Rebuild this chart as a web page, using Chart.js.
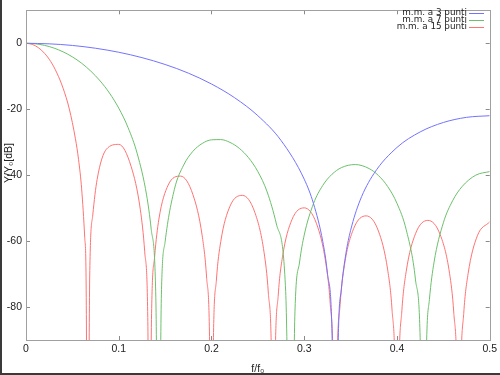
<!DOCTYPE html>
<html>
<head>
<meta charset="utf-8">
<script src="https://cdn.jsdelivr.net/npm/chart.js@4"></script>
<style>
  html, body { margin: 0; padding: 0; background: #fff; }
  canvas { display: block; }
</style>
</head>
<body>
<canvas id="mmChart" width="500" height="375"></canvas>
<script>
// ================== Dati ==================
const seriesNames = ['m.m. a 3 punti', 'm.m. a 7 punti', 'm.m. a 15 punti'];

// media mobile a 3 punti
const freq3 = [0, 0.025, 0.05, 0.075, 0.1, 0.125, 0.15, 0.175, 0.2, 0.225,
  0.25, 0.275, 0.3, 0.31, 0.32, 0.325, 0.33, 0.3333, 0.337, 0.34,
  0.345, 0.35, 0.36, 0.375, 0.4, 0.425, 0.45, 0.475, 0.5];
const gain3 = [0, -0.17, -0.66, -1.51, -2.72, -4.35, -6.43, -9.05, -12.35, -16.53,
  -21.97, -29.48, -41.22, -48.63, -60.12, -69.69, -88.18, -150, -86.45, -74.7,
  -63.68, -56.77, -47.81, -39.6, -31.6, -26.89, -24.03, -22.47, -21.97];

// media mobile a 7 punti
const freq7 = [0, 0.01, 0.02, 0.03, 0.04, 0.05, 0.06, 0.07, 0.08, 0.09,
  0.1, 0.11, 0.12, 0.13, 0.135, 0.14, 0.1429, 0.146, 0.15, 0.16,
  0.17, 0.18, 0.19, 0.2, 0.21, 0.22, 0.23, 0.24, 0.25, 0.26,
  0.27, 0.28, 0.2857, 0.29, 0.295, 0.3, 0.31, 0.32, 0.33, 0.34,
  0.355, 0.37, 0.38, 0.39, 0.4, 0.41, 0.42, 0.425, 0.4286, 0.432,
  0.435, 0.44, 0.45, 0.46, 0.47, 0.485, 0.5];
const gain7 = [0, -0.16, -0.64, -1.44, -2.6, -4.12, -6.06, -8.48, -11.44, -15.1,
  -19.67, -25.54, -33.54, -45.98, -56.37, -77.2, -150, -76.08, -60.23, -44.3,
  -36.94, -32.76, -30.39, -29.29, -29.22, -30.07, -31.87, -34.72, -38.92, -45.07,
  -54.82, -75.24, -150, -81.47, -66.36, -58.17, -48.63, -43.11, -39.72, -37.73,
  -36.79, -38.01, -40.1, -43.45, -48.54, -56.58, -71.77, -89.26, -150, -90.18,
  -77.7, -66.39, -54.46, -47.77, -43.54, -40.0, -38.92];

// media mobile a 15 punti
const freq15 = [0, 0.0067, 0.0133, 0.02, 0.0267, 0.0333, 0.04, 0.0467, 0.0533, 0.0567, 0.06, 0.0633, 0.0647, 0.0667,
  0.0687, 0.072, 0.0767, 0.0867, 0.1, 0.1133, 0.1233, 0.128, 0.1313, 0.1333,
  0.1353, 0.1387, 0.1433, 0.1533, 0.1667, 0.18, 0.19, 0.1947, 0.198, 0.2,
  0.202, 0.2053, 0.21, 0.22, 0.2333, 0.2467, 0.2567, 0.2613, 0.2647, 0.2667,
  0.2687, 0.272, 0.2767, 0.2867, 0.3, 0.3133, 0.3233, 0.328, 0.3313, 0.3333,
  0.3353, 0.3387, 0.3433, 0.3533, 0.3667, 0.38, 0.39, 0.3947, 0.398, 0.4,
  0.402, 0.4053, 0.41, 0.42, 0.4333, 0.4467, 0.4567, 0.4613, 0.4647, 0.4667,
  0.4687, 0.472, 0.4767, 0.4867, 0.5];
const gain15 = [0, -0.33, -1.33, -3.04, -5.55, -9.0, -13.63, -19.93, -28.97, -35.33, -44.16, -58.84, -69.41, -150,
  -70.6, -52.09, -41.29, -32.13, -30.67, -37.32, -50.49, -63.23, -83.15, -150,
  -83.72, -64.74, -53.32, -43.01, -40.3, -45.92, -58.43, -70.89, -90.62, -150,
  -90.97, -71.82, -60.16, -49.39, -46.13, -51.26, -63.44, -75.75, -95.38, -150,
  -95.61, -76.36, -64.57, -53.53, -49.92, -54.75, -66.7, -78.91, -98.47, -150,
  -98.61, -79.3, -67.42, -56.2, -52.35, -56.94, -68.74, -80.88, -100.38, -150,
  -100.46, -81.1, -69.14, -57.76, -53.72, -58.12, -69.77, -81.84, -101.3, -150,
  -101.33, -81.92, -69.9, -58.38, -54.16];

const xTicks = [0, 0.1, 0.2, 0.3, 0.4, 0.5];
const yTicks = [-80, -60, -40, -20, 0];

const colors = ['#7373ff', '#6cc06c', '#ff7373'];
const tickFont = { family: 'Liberation Sans', size: 10.5 };

function toPoints(xs, ys) {
  return xs.map((x, i) => ({ x: x, y: ys[i] }));
}

// cornice, tacche interne, etichetta asse y e legenda
const extras = {
  id: 'extras',
  afterDraw(chart) {
    const c = chart.ctx;
    const a = chart.chartArea;
    const sx = chart.scales.x, sy = chart.scales.y;
    c.save();

    // tacche interne su tutti i lati
    c.strokeStyle = '#8a8a8a';
    c.lineWidth = 1;
    c.beginPath();
    xTicks.forEach(v => {
      const px = Math.round(sx.getPixelForValue(v)) + 0.5;
      c.moveTo(px, a.bottom); c.lineTo(px, a.bottom - 4);
      c.moveTo(px, a.top); c.lineTo(px, a.top + 4);
    });
    yTicks.forEach(v => {
      const py = Math.round(sy.getPixelForValue(v)) + 0.5;
      c.moveTo(a.left, py); c.lineTo(a.left + 4, py);
      c.moveTo(a.right, py); c.lineTo(a.right - 4, py);
    });
    c.stroke();

    c.strokeStyle = '#a0a0a0';
    c.strokeRect(Math.round(a.left) + 0.5, Math.round(a.top) + 0.5,
      Math.round(a.right - a.left), Math.round(a.bottom - a.top));

    // etichetta asse y
    c.fillStyle = '#222';
    c.font = '10.5px "Liberation Sans", "DejaVu Sans"';
    c.translate(9, 163);
    c.rotate(-Math.PI / 2);
    c.textAlign = 'center';
    c.textBaseline = 'middle';
    c.fillText('Y/Y₀[dB]', 0, 0);
    c.setTransform(1, 0, 0, 1, 0, 0);

    // legenda
    c.font = '8.8px "DejaVu Sans"';
    c.textAlign = 'right';
    c.textBaseline = 'middle';
    seriesNames.forEach((name, i) => {
      const y = 12.5 + i * 7.3;
      c.fillStyle = '#222';
      c.fillText(name, 467, y);
      c.strokeStyle = colors[i];
      c.beginPath();
      c.moveTo(469, Math.round(y) + 0.5);
      c.lineTo(484, Math.round(y) + 0.5);
      c.stroke();
    });

    // bordo scuro a sinistra e in basso
    c.fillStyle = '#3a3a3a';
    c.fillRect(0, 0, 2, 375);
    c.fillRect(0, 373, 500, 2);
    c.restore();
  }
};

new Chart(document.getElementById('mmChart'), {
  type: 'line',
  data: {
    datasets: [
      { label: seriesNames[0], data: toPoints(freq3, gain3) },
      { label: seriesNames[1], data: toPoints(freq7, gain7) },
      { label: seriesNames[2], data: toPoints(freq15, gain15) }
    ].map((d, i) => Object.assign(d, {
      borderColor: colors[i],
      borderWidth: 1,
      pointRadius: 0,
      fill: false,
      cubicInterpolationMode: 'monotone'
    }))
  },
  options: {
    responsive: false,
    animation: false,
    layout: { padding: { top: 6, right: 9, bottom: 0, left: 0 } },
    plugins: { legend: { display: false }, tooltip: { enabled: false } },
    scales: {
      x: {
        type: 'linear',
        min: 0,
        max: 0.5,
        afterBuildTicks: s => { s.ticks = xTicks.map(v => ({ value: v })); },
        afterFit: s => { s.height = 35; },
        ticks: {
          font: tickFont, color: '#222', padding: 3,
          maxRotation: 0, autoSkip: false,
          callback: v => v === 0 ? '0' : v.toFixed(1)
        },
        grid: { display: false, drawTicks: false },
        border: { display: false },
        title: {
          display: true, text: 'f/f₀', color: '#222',
          font: tickFont, padding: { top: 3, bottom: 0 }
        }
      },
      y: {
        min: -90,
        max: 10,
        afterBuildTicks: s => { s.ticks = yTicks.map(v => ({ value: v })); },
        afterFit: s => { s.width = 26; },
        ticks: { font: tickFont, color: '#222', padding: 4 },
        grid: { display: false, drawTicks: false },
        border: { display: false }
      }
    }
  },
  plugins: [extras]
});
</script>
</body>
</html>
